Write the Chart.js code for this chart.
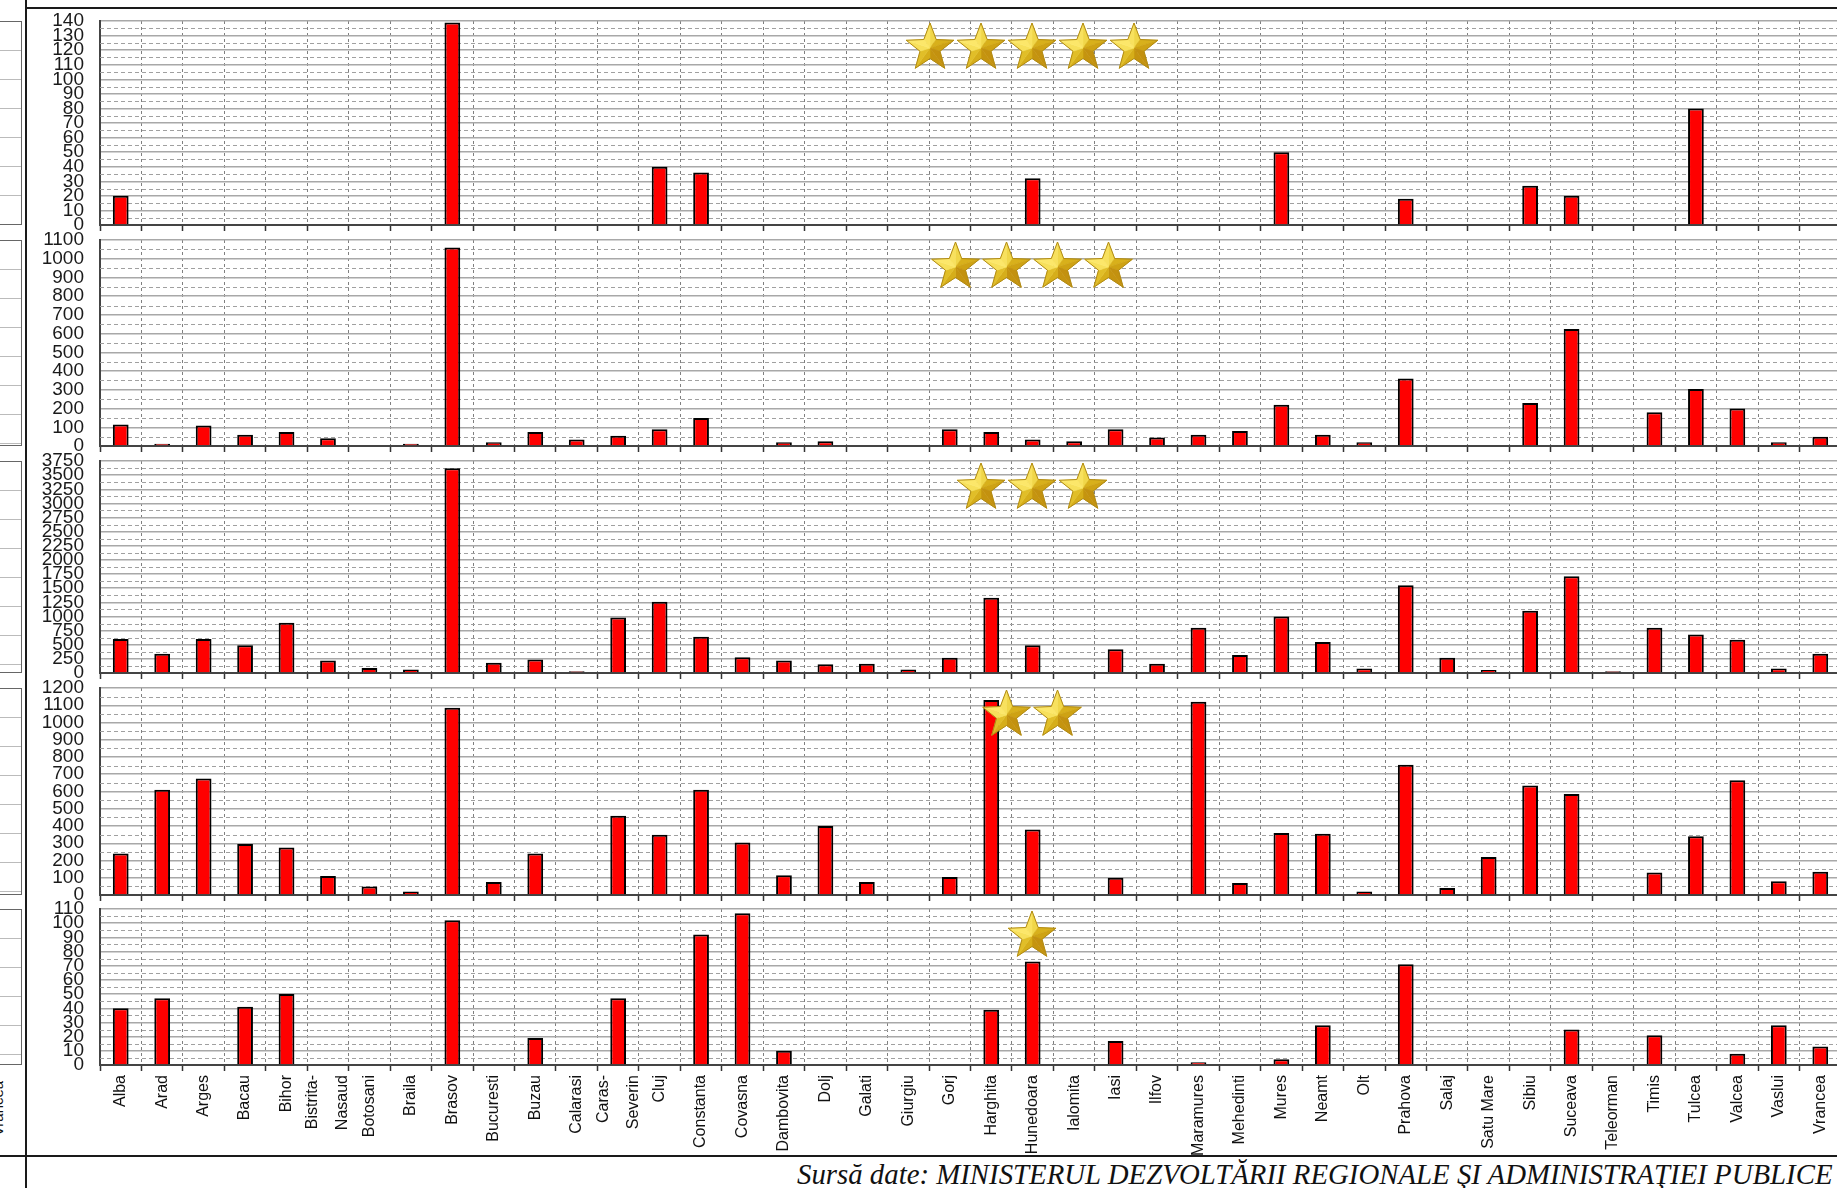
<!DOCTYPE html>
<html><head><meta charset="utf-8">
<script src="https://cdn.jsdelivr.net/npm/chart.js@4.4.1/dist/chart.umd.min.js"></script>
<style>
html,body{margin:0;padding:0;background:#fff;overflow:hidden;width:1837px;height:1188px;}
#wrap{position:relative;width:1837px;height:1188px;overflow:hidden;background:#fff;}
canvas{position:absolute;}
.ln{position:absolute;background:#1a1a1a;}
.box{position:absolute;border:1px solid #666;box-sizing:border-box;background:repeating-linear-gradient(to bottom,#fff 0,#fff 28px,#bbb 28px,#bbb 29px);}
#src{position:absolute;top:1158px;font-family:'Liberation Serif','Times New Roman',serif;font-style:italic;color:#111;white-space:nowrap;}
#vr{position:absolute;left:-30px;top:1100px;transform:rotate(-90deg);font:15px 'Liberation Sans',Arial,sans-serif;color:#111;}
</style></head><body><div id="wrap">
<div class="ln" style="left:25px;top:0;width:2px;height:1188px"></div>
<div class="ln" style="left:25px;top:7px;width:1812px;height:2px"></div>
<div class="ln" style="left:0;top:1155px;width:1837px;height:2px"></div>
<div id="vr">Vrancea</div>
<div id="src">Sursă date: MINISTERUL DEZVOLTĂRII REGIONALE ŞI ADMINISTRAŢIEI PUBLICE</div>
</div>
<script>
// ---- data ----
const regions = ["Alba","Arad","Arges","Bacau","Bihor",["Bistrita-","Nasaud"],"Botosani","Braila","Brasov","Bucuresti","Buzau","Calarasi",["Caras-","Severin"],"Cluj","Constanta","Covasna","Dambovita","Dolj","Galati","Giurgiu","Gorj","Harghita","Hunedoara","Ialomita","Iasi","Ilfov","Maramures","Mehedinti","Mures","Neamt","Olt","Prahova","Salaj","Satu Mare","Sibiu","Suceava","Teleorman","Timis","Tulcea","Valcea","Vaslui","Vrancea"];
const fiveStar  = [20,0,0,0,0,0,0,0,139,0,0,0,0,40,36,0,0,0,0,0,0,0,32,0,0,0,0,0,50,0,0,18,0,0,27,20,0,0,80,0,0,0];
const fourStar  = [115,12,110,60,75,42,0,12,1060,20,75,35,55,90,150,0,20,25,0,0,90,75,35,25,90,45,60,80,220,60,20,360,0,0,230,625,0,180,305,200,20,50];
const threeStar = [600,340,600,490,890,220,90,60,3620,180,240,30,980,1260,640,280,220,155,165,60,270,1330,490,0,420,165,800,320,1000,550,80,1550,270,55,1100,1710,30,800,680,590,80,340];
const twoStar   = [240,610,675,295,275,110,50,20,1085,75,240,0,460,350,610,305,115,400,75,0,105,1130,380,0,100,0,1120,70,360,355,20,755,40,220,635,585,0,130,340,665,80,135];
const oneStar   = [40,47,0,41,50,0,0,0,102,0,19,0,47,0,92,107,10,0,0,0,0,39,73,0,17,0,2,0,4,28,0,71,0,0,0,25,0,21,0,8,28,13];
const axisMax   = [140,1100,3750,1200,110];
const axisStep  = [10,100,250,100,10];
const starCount = [5,4,3,2,1];
const series    = [fiveStar,fourStar,threeStar,twoStar,oneStar];

// ---- layout (pixels) ----
const panelPos = [{top:21,bottom:225},{top:240,bottom:446},{top:461,bottom:673},{top:688,bottom:895},{top:909,bottom:1065}];
const CANVAS_LEFT = 30, CANVAS_W = 1811, PAD_TOP = 12;
const FONT = "'Liberation Sans', Arial, sans-serif";
const wrap = document.getElementById('wrap');

panelPos.forEach(p=>{
  const d=document.createElement('div'); d.className='box';
  d.style.left='-3px'; d.style.width='25px'; d.style.top=p.top+'px'; d.style.height=(p.bottom-p.top)+'px';
  wrap.appendChild(d);
});

(function(){
  const el=document.getElementById('src');
  const c=document.createElement('canvas').getContext('2d');
  c.font="italic 22px 'Liberation Serif'";
  const w=c.measureText(el.textContent).width;
  el.style.fontSize=(22*1037/w)+'px';
  el.style.left='797px';
})();

const minorGrid = {
  id:'minorGrid',
  beforeDatasetsDraw(chart, args, opts){
    const y=chart.scales.y, ca=chart.chartArea, ctx=chart.ctx;
    ctx.save();
    ctx.strokeStyle='#a0a0a0'; ctx.lineWidth=1; ctx.setLineDash([4,3]);
    for(let v=opts.step/2; v<y.max; v+=opts.step){
      const py=Math.round(y.getPixelForValue(v))+0.5;
      ctx.beginPath(); ctx.moveTo(ca.left,py); ctx.lineTo(ca.right,py); ctx.stroke();
    }
    ctx.restore();
  }
};

// category labels drawn at the x scale's tick positions, multi-line labels centred on the tick
const xLabels = {
  id:'xLabels',
  afterDraw(chart, args, opts){
    if(!opts.show) return;
    const x=chart.scales.x, ca=chart.chartArea, ctx=chart.ctx;
    ctx.save();
    ctx.font='16px '+FONT; ctx.fillStyle='#111';
    ctx.textAlign='right'; ctx.textBaseline='middle';
    chart.data.labels.forEach((lab,i)=>{
      const lines=Array.isArray(lab)?lab:[lab];
      const px=x.getPixelForValue(i);
      lines.forEach((t,k)=>{
        const off=(k-(lines.length-1)/2)*30;
        ctx.save(); ctx.translate(px+off, ca.bottom+10); ctx.rotate(-Math.PI/2);
        ctx.fillText(t,0,0); ctx.restore();
      });
    });
    ctx.restore();
  }
};

function drawStar(ctx,cx,cy,R){
  const r=R*0.42, pts=[];
  for(let i=0;i<10;i++){const a=-Math.PI/2+i*Math.PI/5;const rad=i%2?r:R;pts.push([cx+rad*Math.cos(a),cy+rad*Math.sin(a)]);}
  const light=-Math.PI*0.75;
  for(let i=0;i<10;i++){
    const p1=pts[i],p2=pts[(i+1)%10];
    const mx=(p1[0]+p2[0])/2-cx, my=(p1[1]+p2[1])/2-cy;
    const b=0.5+0.5*Math.cos(Math.atan2(my,mx)-light);
    const rr=Math.round(195+58*b), gg=Math.round(145+88*b), bb=Math.round(15+95*b*b);
    ctx.beginPath();ctx.moveTo(cx,cy);ctx.lineTo(p1[0],p1[1]);ctx.lineTo(p2[0],p2[1]);ctx.closePath();
    ctx.fillStyle=`rgb(${rr},${gg},${bb})`;ctx.fill();
    ctx.strokeStyle=ctx.fillStyle;ctx.lineWidth=0.6;ctx.stroke();
  }
  ctx.beginPath();pts.forEach((p,i)=>i?ctx.lineTo(p[0],p[1]):ctx.moveTo(p[0],p[1]));ctx.closePath();
  ctx.strokeStyle='#b08a14';ctx.lineWidth=1;ctx.stroke();
}
const starPlugin = {
  id:'stars',
  afterDraw(chart, args, opts){
    const ctx=chart.ctx, ca=chart.chartArea;
    const cx0=1032-CANVAS_LEFT, sp=51, n=opts.n;
    ctx.save();
    for(let k=0;k<n;k++) drawStar(ctx, cx0+(k-(n-1)/2)*sp, ca.top+27, 25);
    ctx.restore();
  }
};

series.forEach((values, idx)=>{
  const pos=panelPos[idx];
  const showLabels = idx===series.length-1;
  const xh = showLabels ? 90 : 6;
  const c=document.createElement('canvas');
  c.width=CANVAS_W; c.height=PAD_TOP+(pos.bottom-pos.top)+xh;
  c.style.left=CANVAS_LEFT+'px'; c.style.top=(pos.top-PAD_TOP)+'px';
  wrap.appendChild(c);
  new Chart(c,{
    type:'bar',
    data:{labels:regions,datasets:[{data:values,backgroundColor:'#ff0000',borderColor:'#000',borderWidth:2,barPercentage:0.38,categoryPercentage:1}]},
    options:{
      responsive:false, animation:false, devicePixelRatio:1,
      layout:{padding:{top:PAD_TOP,left:0,right:0,bottom:0}},
      plugins:{legend:{display:false},tooltip:{enabled:false},minorGrid:{step:axisStep[idx]},stars:{n:starCount[idx]},xLabels:{show:showLabels}},
      scales:{
        x:{grid:{color:'#808080',lineWidth:1,offset:true,drawTicks:true,tickLength:6,tickColor:'#333',tickWidth:1.5},
           border:{display:true,color:'#444',width:2,dash:[3,3]},
           ticks:{display:false},
           afterFit(s){s.height=xh;s.paddingLeft=0;s.paddingRight=0;}},
        y:{min:0,max:axisMax[idx],
           grid:{color:'#a8a8a8',lineWidth:1.5,drawTicks:false},
           border:{display:true,color:'#444',width:2},
           ticks:{stepSize:axisStep[idx],autoSkip:false,padding:16,color:'#1a1a1a',
                  callback:v=>String(v),
                  font:{family:FONT,size:19,lineHeight:1}},
           afterFit(s){s.width=70;s.paddingTop=0;s.paddingBottom=0;}}
      }
    },
    plugins:[minorGrid,starPlugin,xLabels]
  });
});
</script>
</body></html>
